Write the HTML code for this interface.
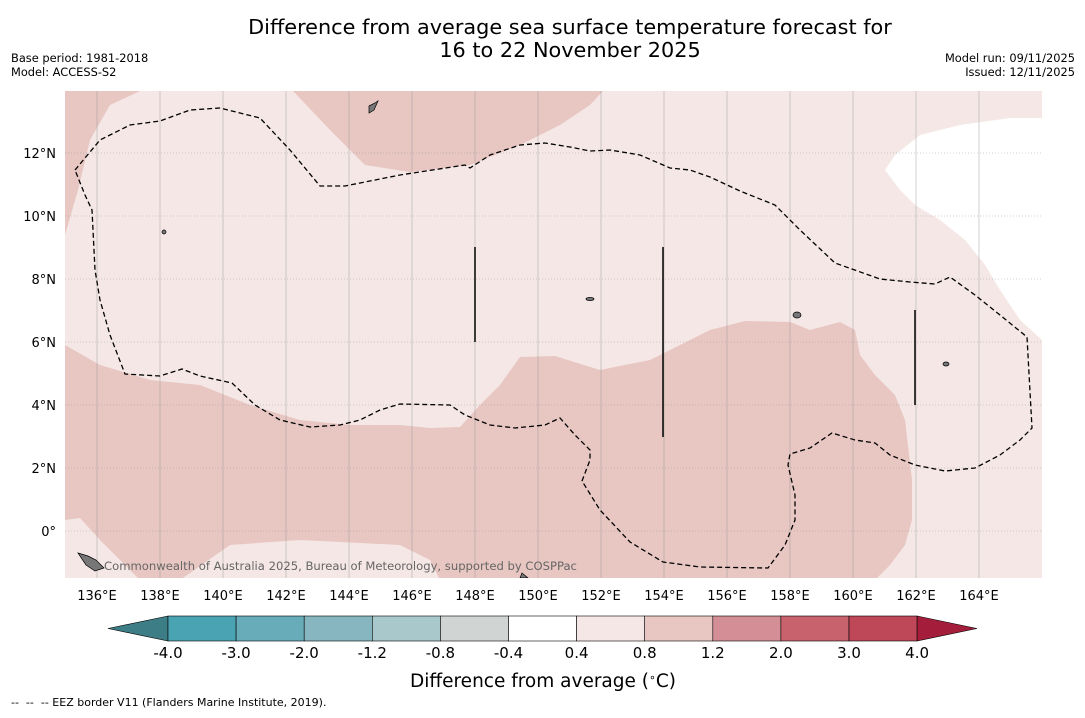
<!DOCTYPE html>
<html><head><meta charset="utf-8"><style>
body{margin:0;background:#fff;width:1085px;height:713px;overflow:hidden;font-family:"Liberation Sans","DejaVu Sans",sans-serif}
svg text{font-family:"DejaVu Sans","Liberation Sans",sans-serif}
</style></head><body>
<svg width="1085" height="713" xmlns="http://www.w3.org/2000/svg">
<text x="570" y="34" font-size="20.8" text-anchor="middle">Difference from average sea surface temperature forecast for</text>
<text x="570" y="57" font-size="20.8" text-anchor="middle">16 to 22 November 2025</text>
<text x="11" y="62" font-size="11.4">Base period: 1981-2018</text>
<text x="11" y="76" font-size="11.4">Model: ACCESS-S2</text>
<text x="1075" y="62" font-size="11.4" text-anchor="end">Model run: 09/11/2025</text>
<text x="1075" y="76" font-size="11.4" text-anchor="end">Issued: 12/11/2025</text>
<defs><clipPath id="mc"><rect x="65" y="91" width="977" height="487"/></clipPath></defs>
<g clip-path="url(#mc)">
<rect x="65" y="91" width="977" height="487" fill="#f4e7e5"/>
<path fill="#e8c7c2" d="M293,91 L330,130 L365,165 L410,172 L470,165 L520,145 L560,125 L590,105 L603,91Z"/>
<path fill="#e8c7c2" d="M65,91 L140,91 L110,105 L90,140 L78,190 L65,235Z"/>
<path fill="#e8c7c2" d="M65,345 L100,365 L150,380 L200,385 L250,405 L300,420 L350,425 L400,425 L430,428 L460,427 L480,405 L500,385 L520,357 L555,356 L600,370 L650,360 L710,330 L745,321 L790,322 L810,330 L840,322 L855,330 L860,355 L875,375 L895,395 L905,420 L912,480 L912,520 L905,545 L890,565 L875,580 L440,580 L430,560 L400,545 L300,540 L230,545 L180,580 L140,580 L100,540 L80,518 L65,520Z"/>
<path fill="#ffffff" d="M1042,118 L1010,118 L960,125 L920,135 L895,155 L885,170 L900,190 L915,205 L940,220 L965,240 L985,265 L1000,290 L1020,320 L1042,340Z"/>
<g id="grid" stroke="#999" stroke-width="0.45"></g>
<path fill="none" stroke="#000" stroke-width="1.3" stroke-dasharray="5,3" d="M75,170 L100,140 L130,125 L160,121 L190,110 L220,108 L260,118 L290,150 L320,186 L345,186 L400,175 L465,165 L470,168 L490,155 L520,145 L545,143 L570,147 L590,151 L610,150 L640,155 L670,168 L690,170 L710,177 L740,191 L775,205 L800,230 L835,263 L880,279 L910,282 L935,284 L950,277 L975,295 L1000,315 L1027,337 L1032,428 L1020,440 L1000,455 L975,468 L945,471 L915,465 L890,455 L875,443 L855,440 L832,433 L810,448 L790,454 L788,465 L795,495 L795,520 L785,545 L768,568 L700,567 L663,562 L630,542 L600,510 L582,481 L590,460 L590,450 L575,435 L560,418 L545,425 L515,428 L490,425 L465,415 L450,405 L400,404 L380,410 L360,420 L340,425 L310,427 L280,420 L255,405 L232,383 L200,376 L182,369 L160,376 L125,374 L110,335 L100,300 L95,270 L92,210 L85,195 Z"/>
<g stroke="#000" stroke-width="1.5">
<line x1="475" y1="247" x2="475" y2="342"/><line x1="663" y1="247" x2="663" y2="437"/><line x1="915" y1="310" x2="915" y2="405"/></g>
<g fill="#777" stroke="#000" stroke-width="0.7">
<path d="M369,106 L375,103 L378,101 L374,110 L369,113Z"/><ellipse cx="797" cy="315" rx="4" ry="3"/><ellipse cx="946" cy="364" rx="3" ry="2"/>
<path d="M78,553 L88,556 L96,560 L104,568 L95,571 L86,565Z"/><path d="M522,573 L528,578 L520,578Z"/>
<ellipse cx="590" cy="299" rx="4" ry="1.5"/><ellipse cx="164" cy="232" rx="2" ry="2"/></g>
<text x="104" y="570" font-size="11.6" fill="#666">Commonwealth of Australia 2025, Bureau of Meteorology, supported by COSPPac</text>
</g>
<g id="axes" font-size="13"></g>
<g id="cbar"></g>
<text x="543" y="687" font-size="18.5" text-anchor="middle">Difference from average (<tspan baseline-shift="super" font-size="11">∘</tspan>C)</text>
<text x="11" y="706" font-size="11" xml:space="preserve">--  --  -- EEZ border V11 (Flanders Marine Institute, 2019).</text>
</svg>
<script>
const NS="http://www.w3.org/2000/svg";
const lonTicks=[136,138,140,142,144,146,148,150,152,154,156,158,160,162,164];
const latTicks=[12,10,8,6,4,2,0];
const cbLevels=["-4.0","-3.0","-2.0","-1.2","-0.8","-0.4","0.4","0.8","1.2","2.0","3.0","4.0"];
const cbColors=["#4aa3b3","#68acb9","#87b6c1","#a9c8cc","#d0d5d4","#ffffff","#f4e7e5","#e8c7c2","#d48f96","#c8636d","#bf4858"];
const lon=v=>65.5+(v-135)*31.5, lat=v=>531-v*31.5;
function mk(t,a,p){const e=document.createElementNS(NS,t);for(const k in a)e.setAttribute(k,a[k]);p.appendChild(e);return e;}
const g=document.getElementById('grid'), ax=document.getElementById('axes');
lonTicks.forEach(v=>{const l=mk('line',{x1:lon(v),x2:lon(v),y1:91,y2:578},g);


const t=mk('text',{x:lon(v),y:600,'text-anchor':'middle'},ax);t.textContent=v+'°E';

});
latTicks.forEach(v=>{const l=mk('line',{x1:65,x2:1042,y1:lat(v),y2:lat(v),'stroke-dasharray':'1,2'},g);


const t=mk('text',{x:56,y:lat(v)+5,'text-anchor':'end'},ax);t.textContent=v===0?'0°':v+'°N';

});
const cb=document.getElementById('cbar');const x0=168,w=68.1,y0=616,h=25;
const lt=mk('path',{d:`M${x0},${y0} L108,${y0+h/2} L${x0},${y0+h}Z`,fill:'#3d7e86',stroke:'#000','stroke-width':0.6},cb);


cbColors.forEach((c,i)=>{const r=mk('rect',{x:x0+i*w,y:y0,width:w,height:h,fill:c,stroke:'#000','stroke-width':0.6},cb);

});
const xe=x0+cbColors.length*w;
const rt=mk('path',{d:`M${xe},${y0} L977,${y0+h/2} L${xe},${y0+h}Z`,fill:'#a41d3a',stroke:'#000','stroke-width':0.6},cb);


cbLevels.forEach((s,i)=>{const t=mk('text',{x:x0+i*w,y:658,'text-anchor':'middle','font-size':15},cb);t.textContent=s;

});
</script>
</body></html>
